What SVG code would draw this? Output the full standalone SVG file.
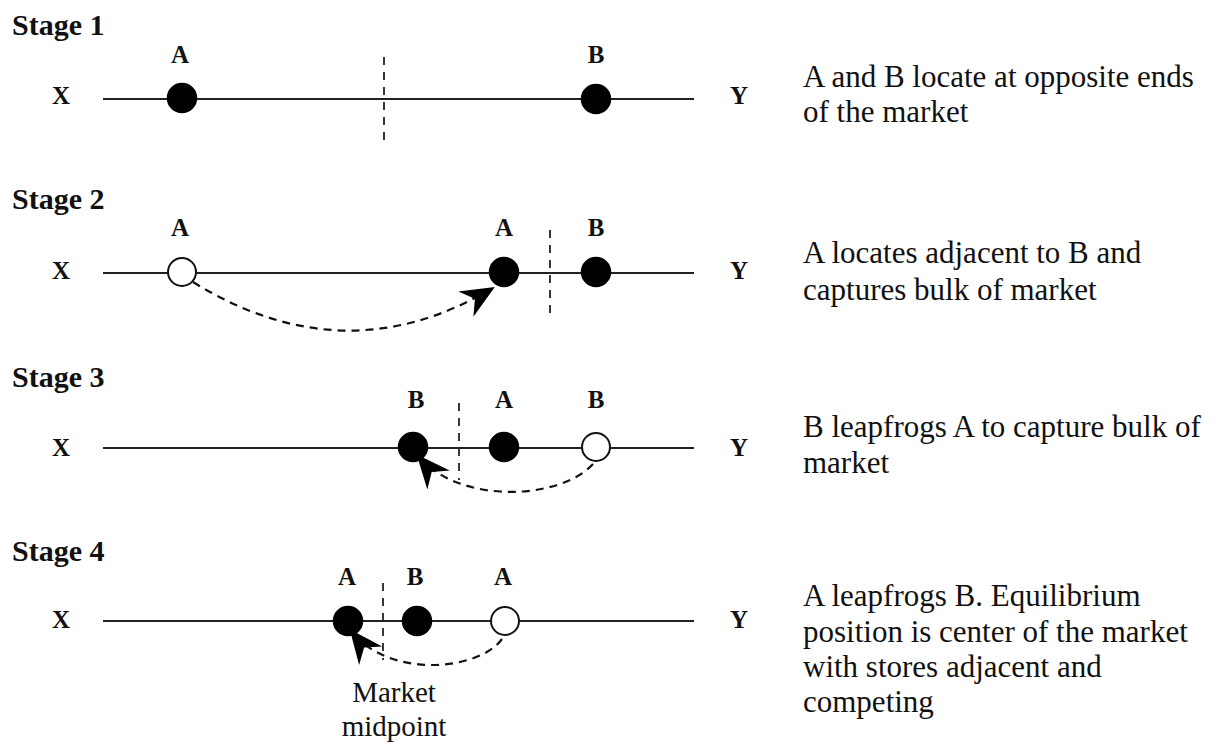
<svg xmlns="http://www.w3.org/2000/svg" width="1218" height="744" viewBox="0 0 1218 744" font-family="'Liberation Serif', 'DejaVu Serif', serif">
  <style>
    text { font-family: 'Liberation Serif', 'DejaVu Serif', serif; fill: #111; }
    .stage { font-size: 30px; font-weight: bold; }
    .lbl { font-size: 25px; font-weight: bold; text-anchor: middle; }
    .note { font-size: 31px; }
    .axis { stroke: #222; stroke-width: 2; fill: none; }
    .mid { stroke: #222; stroke-width: 1.8; stroke-dasharray: 8 7; fill: none; }
    .store { fill: #000; stroke: #000; stroke-width: 1.5; }
    .moved { fill: #fff; stroke: #111; stroke-width: 2; }
    .jump { stroke: #111; stroke-width: 2.2; stroke-dasharray: 8 6; fill: none; }
  </style>
  <defs>
    <marker id="head" markerUnits="userSpaceOnUse" markerWidth="40" markerHeight="40" viewBox="-34 -17 38 34" refX="0" refY="0" orient="auto">
      <path d="M2,0 L-30,-14 L-20,0 L-30,14 Z" fill="#000"/>
    </marker>
  </defs>

  <!-- Stage 1 -->
  <g id="stage1">
    <text class="stage" x="12" y="35">Stage 1</text>
    <line class="axis" x1="103" y1="99" x2="694" y2="99"/>
    <line class="mid" x1="384" y1="57" x2="384" y2="146"/>
    <text class="lbl" x="61" y="104">X</text>
    <text class="lbl" x="739" y="104">Y</text>
    <g id="s1-A"><circle class="store" cx="182" cy="98" r="14.5"/><text class="lbl" x="180" y="63">A</text></g>
    <g id="s1-B"><circle class="store" cx="596" cy="99" r="14.5"/><text class="lbl" x="596" y="63">B</text></g>
    <text class="note" x="803" y="87">A and B locate at opposite ends</text>
    <text class="note" x="803" y="122">of the market</text>
  </g>

  <!-- Stage 2 -->
  <g id="stage2">
    <text class="stage" x="12" y="209">Stage 2</text>
    <line class="axis" x1="103" y1="273" x2="694" y2="273"/>
    <line class="mid" x1="550" y1="230" x2="550" y2="320"/>
    <text class="lbl" x="61" y="279">X</text>
    <text class="lbl" x="739" y="279">Y</text>
    <g id="s2-A-old"><circle class="moved" cx="182" cy="272" r="14"/><text class="lbl" x="180" y="236">A</text></g>
    <g id="s2-A"><circle class="store" cx="504" cy="272" r="14.5"/><text class="lbl" x="504" y="236">A</text></g>
    <g id="s2-B"><circle class="store" cx="596" cy="272" r="14.5"/><text class="lbl" x="596" y="236">B</text></g>
    <text class="note" x="803" y="263">A locates adjacent to B and</text>
    <text class="note" x="803" y="300">captures bulk of market</text>
  </g>

  <!-- Stage 3 -->
  <g id="stage3">
    <text class="stage" x="12" y="387">Stage 3</text>
    <line class="axis" x1="103" y1="448" x2="694" y2="448"/>
    <line class="mid" x1="459" y1="403" x2="459" y2="480"/>
    <text class="lbl" x="61" y="456">X</text>
    <text class="lbl" x="739" y="456">Y</text>
    <g id="s3-B"><circle class="store" cx="413" cy="447" r="14.5"/><text class="lbl" x="416" y="408">B</text></g>
    <g id="s3-A"><circle class="store" cx="504" cy="447" r="14.5"/><text class="lbl" x="504" y="408">A</text></g>
    <g id="s3-B-old"><circle class="moved" cx="596" cy="447" r="14"/><text class="lbl" x="596" y="408">B</text></g>
    <text class="note" x="803" y="437">B leapfrogs A to capture bulk of</text>
    <text class="note" x="803" y="473">market</text>
  </g>

  <!-- Stage 4 -->
  <g id="stage4">
    <text class="stage" x="12" y="561">Stage 4</text>
    <line class="axis" x1="103" y1="621" x2="694" y2="621"/>
    <line class="mid" x1="383" y1="583" x2="383" y2="660"/>
    <text class="lbl" x="61" y="628">X</text>
    <text class="lbl" x="739" y="628">Y</text>
    <g id="s4-A"><circle class="store" cx="348" cy="621" r="14.5"/><text class="lbl" x="347" y="585">A</text></g>
    <g id="s4-B"><circle class="store" cx="417" cy="621" r="14.5"/><text class="lbl" x="415" y="585">B</text></g>
    <g id="s4-A-old"><circle class="moved" cx="505" cy="621" r="14"/><text class="lbl" x="503" y="585">A</text></g>
    <g id="midpoint-label">
      <text class="note" x="394" y="702" text-anchor="middle" style="font-size:29px">Market</text>
      <text class="note" x="394" y="736" text-anchor="middle" style="font-size:29px">midpoint</text>
    </g>
    <text class="note" x="803" y="606">A leapfrogs B. Equilibrium</text>
    <text class="note" x="803" y="642">position is center of the market</text>
    <text class="note" x="803" y="677">with stores adjacent and</text>
    <text class="note" x="803" y="712">competing</text>
  </g>

  <!-- relocation jumps -->
  <g id="connectors">
    <path class="jump" d="M193,282 Q345,376 493,288" marker-end="url(#head)"/>
    <path class="jump" d="M593,464 C560,500 460,505 418,456" marker-end="url(#head)"/>
    <path class="jump" d="M502,639 C480,670 390,680 351,631" marker-end="url(#head)"/>
  </g>
</svg>
